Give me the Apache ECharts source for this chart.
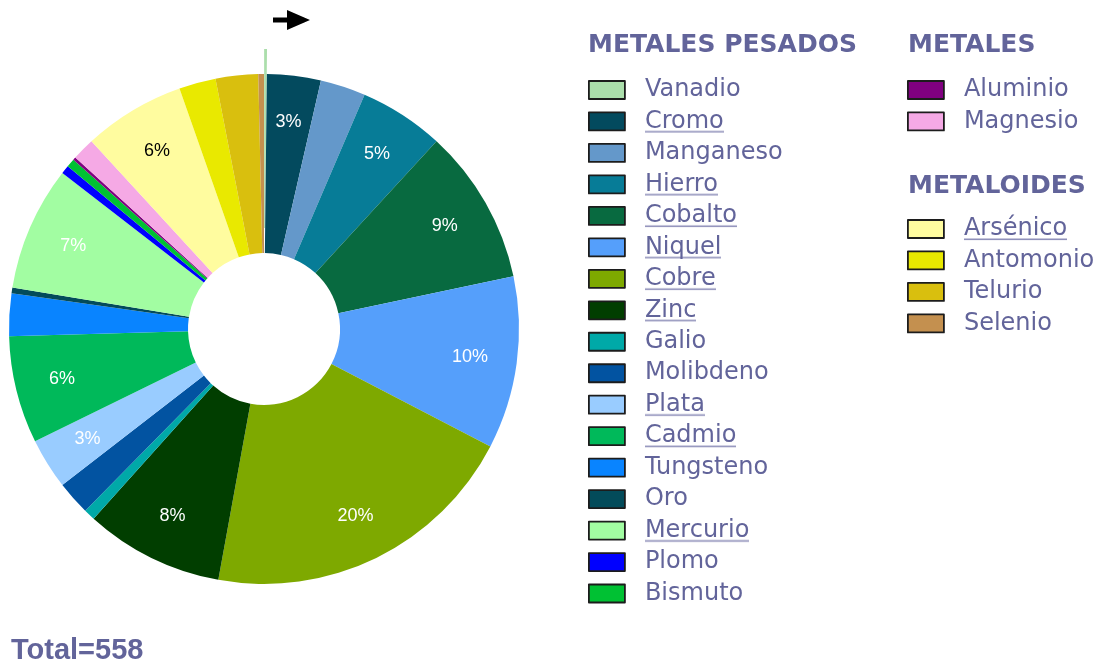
<!DOCTYPE html>
<html><head><meta charset="utf-8">
<script src="https://cdn.jsdelivr.net/npm/echarts@6/dist/echarts.min.js"></script>
<style>html,body{margin:0;padding:0;background:#fff}#c{width:1097px;height:663px}</style>
</head><body><div id="c"></div>
<script>
// ---- data ----
const heavyMetals = ['Vanadio','Cromo','Manganeso','Hierro','Cobalto','Niquel','Cobre','Zinc','Galio','Molibdeno','Plata','Cadmio','Tungsteno','Oro','Mercurio','Plomo','Bismuto'];
const heavyValues = [1,19,16,30,55,61,113,49,4,12,18,38,15,2,44,3,3];
const metals = ['Aluminio','Magnesio'];
const metalValues = [1,8];
const metalloids = ['Arsénico','Antomonio','Telurio','Selenio'];
const metalloidValues = [36,13,15,2];
const labeledNames = ['Cromo','Hierro','Cobalto','Niquel','Cobre','Zinc','Plata','Cadmio','Mercurio','Arsénico'];
const groupTitles = ['METALES PESADOS','METALES','METALOIDES'];
const totalLabel = 'Total=';

// ---- styles ----
const palette = {
  Vanadio:'#abdeab', Cromo:'#034a5e', Manganeso:'#6498ca', Hierro:'#077c97', Cobalto:'#086a40',
  Niquel:'#559ffb', Cobre:'#7ea900', Zinc:'#013e00', Galio:'#00a9a8', Molibdeno:'#0253a1',
  Plata:'#99ccff', Cadmio:'#00b95a', Tungsteno:'#0984ff', Oro:'#034b5a', Mercurio:'#a2fda2',
  Plomo:'#0000ff', Bismuto:'#00c133', Aluminio:'#800080', Magnesio:'#f5a9e5',
  'Arsénico':'#fffc9f', Antomonio:'#e9e900', Telurio:'#d9bf0e', Selenio:'#c4904f'
};
const explodedName = 'Vanadio';
const darkLabelNames = ['Arsénico'];
const textColor = '#62649a';
const legendFont = 'DejaVu Sans';

const names = heavyMetals.concat(metals, metalloids);
const values = heavyValues.concat(metalValues, metalloidValues);
const total = values.reduce((a,b)=>a+b,0);

function underlineImage(){
  const c = document.createElement('canvas');
  c.width = 4; c.height = 24;
  const g = c.getContext('2d');
  g.fillStyle = '#8f90ba';
  g.fillRect(0, 21.5, 4, 1.6);
  return c;
}
const ul = underlineImage();

const pieData = names.map((n,i)=>({
  name:n, value:values[i], selected: n===explodedName,
  itemStyle:{color:palette[n]}
}));
const labelData = names.map((n,i)=>({
  name:n, value:values[i],
  itemStyle:{color:'rgba(0,0,0,0)'},
  label:{show: labeledNames.includes(n), color: darkLabelNames.includes(n)?'#000':'#fff'}
}));

function legendCfg(data, left, top){
  return {
    data, left, top, orient:'vertical', padding:0, icon:'rect',
    itemWidth:36, itemHeight:18, itemGap:7.47, selectedMode:false,
    itemStyle:{borderColor:'#1c1c1c', borderWidth:1.8},
    formatter: n => labeledNames.includes(n) ? '{u|'+n+'}' : '{n|'+n+'}',
    textStyle:{
      fontFamily:legendFont, fontSize:24, color:textColor, lineHeight:24, padding:[0,0,0,15],
      rich:{
        u:{fontFamily:legendFont, fontSize:24, color:textColor, lineHeight:24, backgroundColor:{image:ul}},
        n:{fontFamily:legendFont, fontSize:24, color:textColor, lineHeight:24}
      }
    }
  };
}
function titleCfg(text, left, top, font, size){
  return {text, left, top, padding:0,
    textStyle:{fontFamily:font, fontWeight:'bold', fontSize:size, lineHeight:26, color:textColor}};
}

const chart = echarts.init(document.getElementById('c'), null, {renderer:'canvas'});
chart.setOption({
  animation:false,
  backgroundColor:'#fff',
  title:[
    titleCfg(groupTitles[0], 588, 32, legendFont, 25),
    titleCfg(groupTitles[1], 908, 32, legendFont, 25),
    titleCfg(groupTitles[2], 908, 173, legendFont, 25),
    {text: totalLabel + total, left:11, top:637, padding:0,
     textStyle:{fontFamily:'Liberation Sans', fontWeight:'bold', fontSize:29, lineHeight:28, color:textColor}}
  ],
  legend:[
    legendCfg(heavyMetals, 588, 78),
    legendCfg(metals, 907, 78),
    legendCfg(metalloids, 907, 217)
  ],
  graphic:[{
    type:'polygon', silent:true,
    shape:{points:[[273,17.5],[287,17.5],[287,10],[310,20],[287,30],[287,22.5],[273,22.5]]},
    style:{fill:'#000'}
  }],
  series:[
    {
      type:'pie', center:[264,329], radius:[76,255], startAngle:90, clockwise:true,
      selectedMode:'single', selectedOffset:25, avoidLabelOverlap:false,
      label:{show:false}, labelLine:{show:false}, emphasis:{disabled:true},
      itemStyle:{borderWidth:0}, data:pieData
    },
    {
      type:'pie', center:[264,329], radius:[155,255], startAngle:90, clockwise:true,
      silent:true, avoidLabelOverlap:false, selectedMode:false,
      labelLine:{show:false}, emphasis:{disabled:true},
      label:{position:'inside', fontFamily:'Liberation Sans', fontSize:18,
        formatter: p => Math.floor(p.percent) + '%'},
      itemStyle:{borderWidth:0}, data:labelData, z:3
    }
  ]
});
</script></body></html>
